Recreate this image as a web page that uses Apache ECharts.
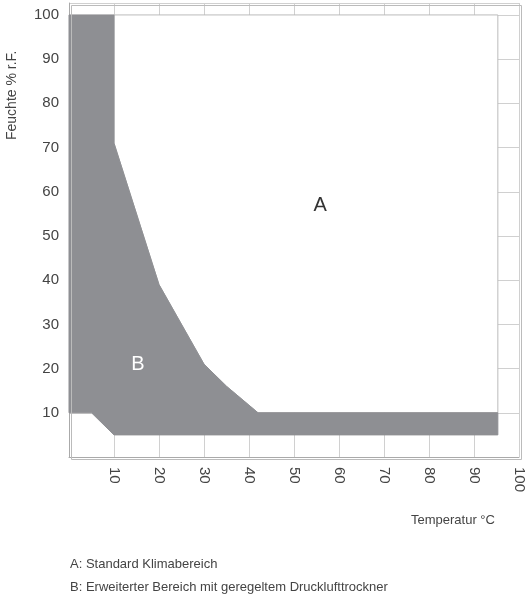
<!DOCTYPE html>
<html><head><meta charset="utf-8">
<script src="https://cdn.jsdelivr.net/npm/echarts@6/dist/echarts.min.js"></script>
<style>html,body{margin:0;background:#fff}#c{width:528px;height:600px}</style>
</head><body><div id="c"></div>
<script>
// Bereich B (grau), Punkte [Temperatur, Feuchte]
var areaB = [[0,100],[10,100],[10,71],[20,39],[30,21],[35,16],[42,10],[95.3,10],[95.3,5],[10,5],[5,10],[0,10]];
// Bereich A (weiss)
var areaA = [[10,100],[95.3,100],[95.3,10],[42,10],[35,16],[30,21],[20,39],[10,71]];
var regionLabels = [['A',55.8,57,'#333'],['B',15.3,21,'#fff']];
var xTicks = [0,10,20,30,40,50,60,70,80,90,100];
var yTicks = [0,10,20,30,40,50,60,70,80,90,100];

var chart = echarts.init(document.getElementById('c'));
function poly(pts, fill, stroke) {
    return function (params, api) {
        return {
            type: 'polygon',
            shape: {points: pts.map(function (p) { return api.coord(p); })},
            style: {fill: fill, stroke: stroke, lineWidth: 1}
        };
    };
}
var font = 'Liberation Sans, Arial, sans-serif';
option = {
    animation: false,
    grid: {left: 69, right: 9, top: 3, bottom: 143},
    xAxis: {
        type: 'value', min: 0, max: 100, interval: 10,
        axisLine: {lineStyle: {color: '#aaa'}},
        axisTick: {show: false},
        splitLine: {show: true, lineStyle: {color: '#d0d0d0'}},
        axisLabel: {rotate: -90, showMinLabel: false, color: '#444', fontSize: 15, fontFamily: font, margin: 10}
    },
    yAxis: {
        type: 'value', min: 0, max: 102.7, interval: 10,
        axisLine: {show: true, lineStyle: {color: '#aaa'}},
        axisTick: {show: false},
        splitLine: {show: true, lineStyle: {color: '#d0d0d0'}},
        axisLabel: {showMinLabel: false, showMaxLabel: false, color: '#444', fontSize: 15, fontFamily: font, margin: 10}
    },
    graphic: [
        {type: 'rect', left: 69, top: 3, shape: {width: 450, height: 454}, style: {fill: 'none', stroke: '#bbb'}, z: 100},
        {type: 'text', x: 5, y: 140, rotation: Math.PI / 2, style: {text: 'Feuchte % r.F.', fill: '#444', font: '14px ' + font}},
        {type: 'text', x: 411, y: 514, style: {text: 'Temperatur °C', fill: '#444', font: '13px ' + font}},
        {type: 'text', x: 70, y: 558, style: {text: 'A: Standard Klimabereich', fill: '#444', font: '13px ' + font}},
        {type: 'text', x: 70, y: 581, style: {text: 'B: Erweiterter Bereich mit geregeltem Drucklufttrockner', fill: '#444', font: '13px ' + font}}
    ],
    series: [
        {type: 'custom', data: [0], renderItem: poly(areaA, '#fff', '#bbb'), z: 2},
        {type: 'custom', data: [0], renderItem: poly(areaB, '#8e8f93', '#8e8f93'), z: 3},
        {
            type: 'custom', data: regionLabels, z: 4,
            renderItem: function (params, api) {
                var d = regionLabels[params.dataIndex];
                var p = api.coord([d[1], d[2]]);
                return {type: 'text', x: p[0], y: p[1],
                    style: {text: d[0], fill: d[3], font: '20px ' + font, align: 'center', verticalAlign: 'middle'}};
            }
        }
    ]
};
chart.setOption(option);
</script></body></html>
